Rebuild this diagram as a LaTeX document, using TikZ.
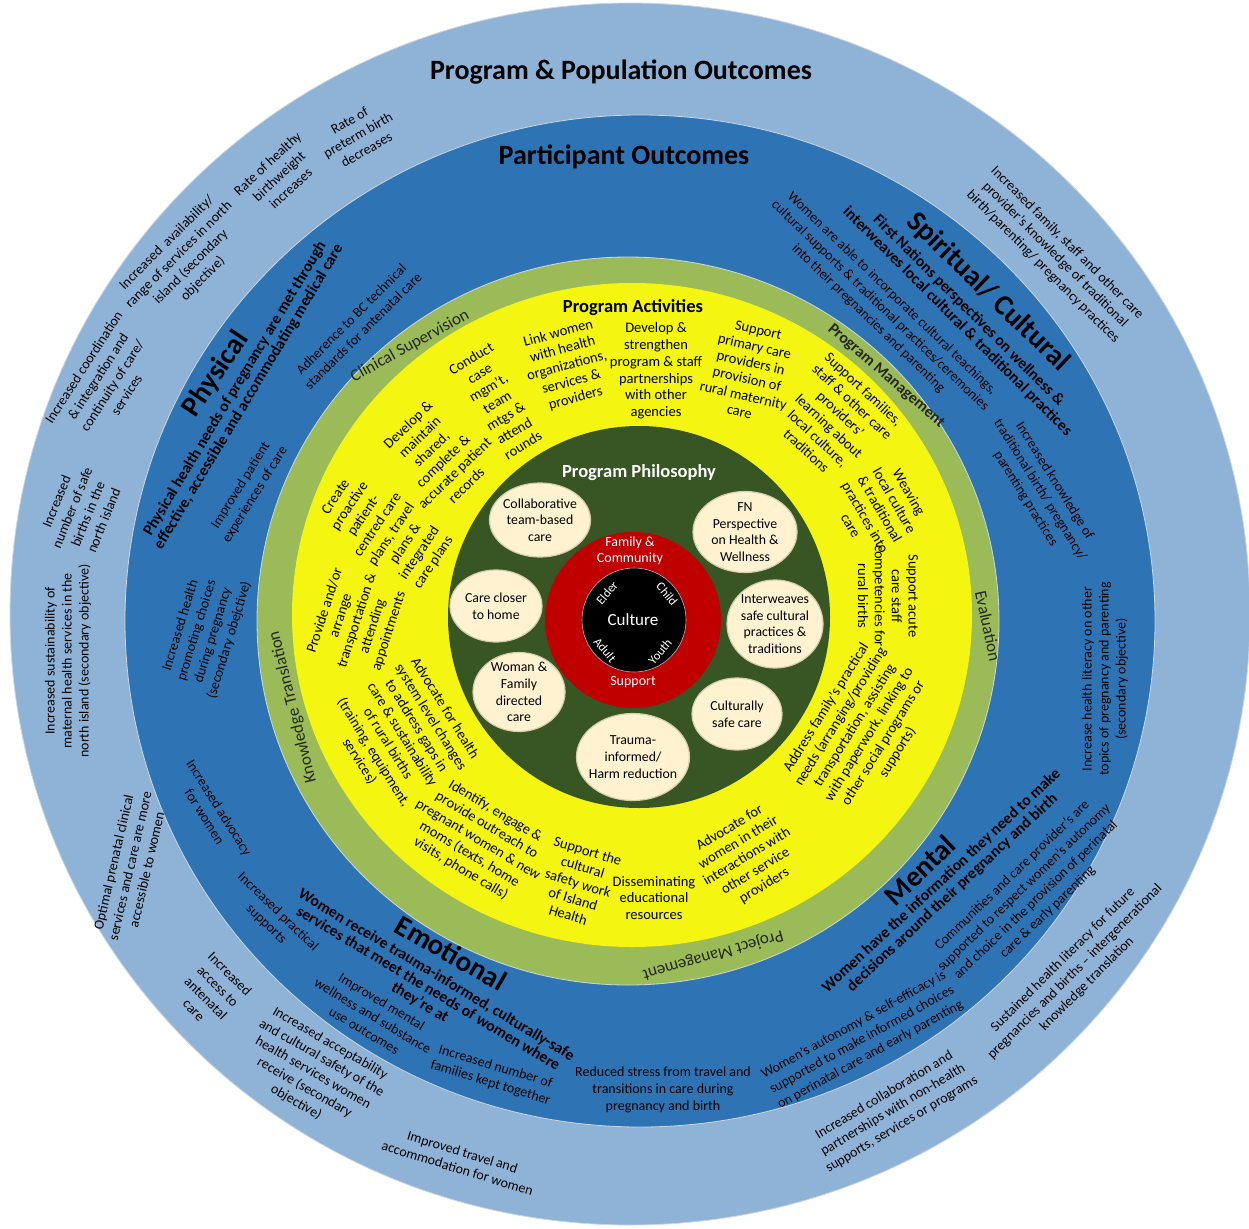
\documentclass[tikz,border=0pt]{standalone}
\usepackage{fontspec}
\setmainfont{Carlito}
\usetikzlibrary{shapes.geometric}
\definecolor{lb}{RGB}{143,179,215}
\definecolor{db}{RGB}{46,116,181}
\definecolor{gr}{RGB}{155,187,89}
\definecolor{ye}{RGB}{244,245,17}
\definecolor{dg}{RGB}{56,86,35}
\definecolor{rd}{RGB}{192,0,0}
\definecolor{cream}{RGB}{255,242,208}
\definecolor{creamedge}{RGB}{215,205,175}
\definecolor{gtext}{RGB}{36,40,28}
\definecolor{edge}{RGB}{205,215,225}
\tikzset{
  base/.style={inner sep=0pt, align=center, text=black},
  sm/.style={base, font=\fontsize{14}{17}\selectfont},
  yl/.style={base, font=\fontsize{14.5}{16.8}\selectfont},
  sb/.style={base, font=\bfseries\fontsize{15.8}{16}\selectfont},
  big/.style={base, font=\bfseries\fontsize{29}{32}\selectfont},
  head/.style={base, font=\bfseries\fontsize{28}{32}\selectfont},
  ringlabel/.style={base, font=\fontsize{17}{20}\selectfont, text=gtext},
  ellbox/.style={ellipse, fill=cream, draw=creamedge, line width=1.2pt, inner sep=0pt},
  elltext/.style={base, font=\fontsize{13.8}{16.7}\selectfont},
  wt/.style={base, text=white},
}
\begin{document}
\begin{tikzpicture}[x=1pt,y=-1pt]
\fill[white] (0,0) rectangle (1249,1228);
\useasboundingbox (0,0) rectangle (1249,1228);
% rings
\fill[lb, draw=edge, line width=0.8pt] (630,614) ellipse [x radius=620pt, y radius=611pt];
\fill[db, draw=edge, line width=0.8pt] (640,621) ellipse [x radius=515pt, y radius=506pt];
\fill[gr, draw=edge, line width=0.8pt] (628,621) ellipse [x radius=371pt, y radius=364pt];
\fill[ye] (632,615) ellipse [x radius=340pt, y radius=332pt];
\fill[dg] (639,617) circle [radius=191pt];
\fill[rd] (633,620) circle [radius=88pt];
\fill[black, draw=white!70!black, line width=0.6pt] (634,620) circle [radius=52pt];

% ---------------- outer ring: program & population outcomes
\node[head] (hpop) at (621,72) {Program \& Population Outcomes};
\node[sm, rotate=30] (o1) at (358,135) {Rate of\\preterm birth\\decreases};
\node[sm, rotate=43] (o2) at (279,176) {Rate of healthy\\birthweight\\increases};
\node[sm, rotate=45] (o3) at (185,261) {Increased\ \ availability/\\range of services in north\\island (secondary\\objective)};
\node[sm, rotate=57] (o4) at (105,381) {Increased coordination\\\& integration and\\continuity of care/\\services};
\node[sm, rotate=68] (o5) at (80,511) {Increased\\number of safe\\births in the\\north island};
\node[sm, rotate=90] (o6) at (68,661) {Increased sustainability of\\maternal health services in the\\north island (secondary objective)};
\node[sm, rotate=77] (o7) at (130,866) {Optimal prenatal clinical\\services and care are more\\accessible to women};
\node[sm, rotate=-45] (o8) at (212,992) {Increased\\access to\\antenatal\\care};
\node[sm, rotate=-30] (o9) at (313,1073) {Increased acceptability\\and cultural safety of the\\health services women\\receive (secondary\\objective)};
\node[sm, rotate=-17] (o10) at (460,1160) {Improved travel and\\accommodation for women};
\node[sm, rotate=31] (o11) at (893,1110) {Increased collaboration and\\partnerships with non-health\\supports, services or programs};
\node[sm, rotate=45] (o12) at (1075,972) {Sustained health literacy for future\\pregnancies and births – intergenerational\\knowledge translation};
\node[sm, rotate=-45] (o13) at (1055,255) {Increased family, staff and other care\\provider’s knowledge of traditional\\birth/parenting/ pregnancy practices};

% ---------------- dark blue ring: participant outcomes
\node[head] (hpart) at (624,157) {Participant Outcomes};
\node[big, rotate=56] (phys) at (216,374) {Physical};
\node[sb, rotate=59] (physs) at (242,393) {Physical health needs of pregnancy are met through\\effective, accessible and accommodating medical care};
\node[sm, rotate=45] (b3) at (357,325) {Adherence to BC technical\\standards for antenatal care};
\node[sm, rotate=58] (b4) at (248,490) {Improved patient\\experiences of care};
\node[sm, rotate=73] (b5) at (205,633) {Increased health\\promoting choices\\during pregnancy\\(secondary obejctive)};
\node[sm, rotate=-58] (b6) at (212,812) {Increased advocacy\\for women};
\node[sm, rotate=-44] (b7) at (272,918) {Increased practical\\supports};
\node[big, rotate=-30] (emo) at (451,953) {Emotional};
\node[sb, rotate=-31] (emos) at (428,989) {Women receive trauma-informed, culturally-safe\\services that meet the needs of women where\\they’re at};
\node[sm, rotate=-31] (b10) at (373,1016) {Improved mental\\wellness and substance\\use outcomes};
\node[sm, rotate=-17] (b11) at (493,1075) {Increased number of\\families kept together};
\node[sm] (b12) at (663,1090) {Reduced stress from travel and\\transitions in care during\\pregnancy and birth};
\node[sm, rotate=29] (b13) at (862,1040) {Women’s autonomy \& self-efficacy is\\supported to make informed choices\\on perinatal care and early parenting};
\node[big, rotate=44] (ment) at (920,870) {Mental};
\node[sb, rotate=43] (ments) at (947,887) {Women have the information they need to make\\decisions around their pregnancy and birth};
\node[sm, rotate=44] (b16) at (1030,894) {Communities and care provider’s are\\supported to respect women’s autonomy\\and choice in the provision of perinatal\\care \& early parenting};
\node[sm, rotate=90] (b17) at (1105,679) {Increase health literacy on other\\topics of pregnancy and parenting\\(secondary objective)};
\node[sm, rotate=-58] (b18) at (1040,490) {Increased knowledge of\\traditional birth/ pregnancy/\\parenting practices};
\node[big, rotate=-44] (spir) at (988,292) {Spiritual/ Cultural};
\node[sb, rotate=-45] (spirs) at (963,316) {First Nations perspectives on wellness \&\\interweaves local cultural \& traditional practices};
\node[sm, rotate=-44] (b21) at (880,306) {Women are able to incorporate cultural teachings,\\cultural supports \& traditional practices/ceremonies\\into their pregnancies and parenting};

% ---------------- green ring
\node[ringlabel, rotate=29] (g1) at (410,346) {Clinical Supervision};
\node[ringlabel, rotate=-41, font=\bfseries\fontsize{16}{19}\selectfont] (g2) at (886,376) {Program Management};
\node[ringlabel, rotate=-78] (g3) at (988,626) {Evaluation};
\node[ringlabel, rotate=196] (g4) at (713,955) {Project Management};
\node[ringlabel, rotate=104] (g5) at (293,707) {Knowledge Translation};

% ---------------- yellow ring: program activities
\node[base, font=\bfseries\fontsize{18.5}{21}\selectfont] (hact) at (633,308) {Program Activities};
\node[yl, rotate=15] (y1) at (567,366) {Link women\\with health\\organizations,\\services \&\\providers};
\node[yl] (y2) at (656,371) {Develop \&\\strengthen\\program \& staff\\partnerships\\with other\\agencies};
\node[yl, rotate=-13] (y3) at (749,371) {Support\\primary care\\providers in\\provision of\\rural maternity\\care};
\node[yl, rotate=31] (y4) at (497,402) {Conduct\\case\\mgm’t,\\team\\mtgs \&\\attend\\rounds};
\node[yl, rotate=44] (y5) at (437,455) {Develop \&\\maintain\\shared,\\complete \&\\accurate patient\\records};
\node[yl, rotate=56] (y6) at (385,530) {Create\\proactive\\patient-\\centred care\\plans, travel\\plans \&\\integrated\\care plans};
\node[yl, rotate=72] (y7) at (357,621) {Provide and/or\\arrange\\transportation \&\\attending\\appointments};
\node[yl, rotate=-58] (y8) at (402,735) {Advocate for health\\system level changes\\to address gaps in\\care \& sustainability\\of rural births\\(training, equipment,\\services)};
\node[yl, rotate=-31] (y9) at (478,840) {Identify, engage \&\\provide outreach to\\pregnant women \& new\\moms (texts, home\\visits, phone calls)};
\node[yl, rotate=-17] (y10) at (578,883) {Support the\\cultural\\safety work\\of Island\\Health};
\node[yl] (y11) at (654,898) {Disseminating\\educational\\resources};
\node[yl, rotate=31] (y12) at (747,857) {Advocate for\\women in their\\interactions with\\other service\\providers};
\node[yl, rotate=58] (y13) at (862,730) {Address family’s practical\\needs (arranging/providing\\transportation, assisting\\with paperwork, linking to\\other social programs or\\supports)};
\node[yl, rotate=-90] (y14) at (888,596) {Support acute\\care staff\\competencies for\\rural births};
\node[yl, rotate=-60] (y15) at (880,509) {Weaving\\local culture\\\& traditional\\practices into\\care};
\node[yl, rotate=-43] (y16) at (835,420) {Support families,\\staff \& other care\\providers’\\learning about\\local culture,\\traditions};

% ---------------- philosophy
\node[wt, font=\bfseries\fontsize{18.5}{21}\selectfont] (hphil) at (639,473) {Program Philosophy};
\node[ellbox, minimum width=101pt, minimum height=74pt] (e1) at (540,520) {};
\node[elltext] (e1t) at (e1) {Collaborative\\team-based\\care};
\node[ellbox, minimum width=104pt, minimum height=81pt] (e2) at (745,532) {};
\node[elltext] (e2t) at (e2) {FN\\Perspective\\on Health \&\\Wellness};
\node[ellbox, minimum width=92pt, minimum height=72pt] (e3) at (496,606) {};
\node[elltext] (e3t) at (e3) {Care closer\\to home};
\node[ellbox, minimum width=96pt, minimum height=88pt] (e4) at (775,624) {};
\node[elltext] (e4t) at (e4) {Interweaves\\safe cultural\\practices \&\\traditions};
\node[ellbox, minimum width=92pt, minimum height=79pt] (e5) at (519,692) {};
\node[elltext] (e5t) at (e5) {Woman \&\\Family\\directed\\care};
\node[ellbox, minimum width=90pt, minimum height=72pt] (e6) at (737,714) {};
\node[elltext] (e6t) at (e6) {Culturally\\safe care};
\node[ellbox, minimum width=113pt, minimum height=87pt] (e7) at (633,757) {};
\node[elltext] (e7t) at (e7) {Trauma-\\informed/\\Harm reduction};

% ---------------- culture core
\node[wt, font=\fontsize{14}{16.5}\selectfont] (fam) at (630,551) {Family \&\\Community};
\node[wt, font=\fontsize{14}{16.5}\selectfont] (sup) at (633,682) {Support};
\node[wt, font=\fontsize{17}{20}\selectfont] (cult) at (633,620) {Culture};
\node[wt, font=\fontsize{12.5}{15}\selectfont, rotate=50] (eld) at (607,593) {Elder};
\node[wt, font=\fontsize{12.5}{15}\selectfont, rotate=-50] (chi) at (667,594) {Child};
\node[wt, font=\fontsize{12.5}{15}\selectfont, rotate=-50] (adu) at (605,650) {Adult};
\node[wt, font=\fontsize{12.5}{15}\selectfont, rotate=50] (you) at (660,652) {Youth};
\end{tikzpicture}
\end{document}
